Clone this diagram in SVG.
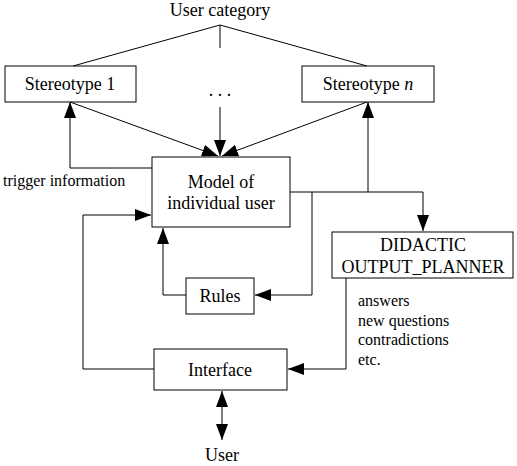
<svg xmlns="http://www.w3.org/2000/svg" width="517" height="466" viewBox="0 0 517 466">
<style>
.box{fill:#fff;stroke:#000;stroke-width:1}
.ln{fill:none;stroke:#000;stroke-width:1}
.t{font-size:18px;fill:#000;text-anchor:middle}
.s{font-size:16px;fill:#000}
</style>
<defs>
<marker id="ah" markerUnits="userSpaceOnUse" markerWidth="16" markerHeight="12" refX="16" refY="6" orient="auto-start-reverse" viewBox="0 0 16 12">
<path d="M0,0 L16,6 L0,12 z" fill="#000"/>
</marker>
</defs>
<rect width="517" height="466" fill="#fff"/>
<g id="connectors">
<path class="ln" d="M73,66 L220,25 L367,66"/>
<path class="ln" d="M220,25 L220,48"/>
<path class="ln" d="M220,107 L220,156" marker-end="url(#ah)"/>
<path class="ln" d="M70,102 L218,156" marker-end="url(#ah)"/>
<path class="ln" d="M367,102 L222,156" marker-end="url(#ah)"/>
<path class="ln" d="M152,168 L70,168 L70,102" marker-end="url(#ah)"/>
<path class="ln" d="M290,192 L423,192 L423,231" marker-end="url(#ah)"/>
<path class="ln" d="M368,192 L368,102" marker-end="url(#ah)"/>
<path class="ln" d="M312,192 L312,295 L255,295" marker-end="url(#ah)"/>
<path class="ln" d="M186,295 L163,295 L163,228" marker-end="url(#ah)"/>
<path class="ln" d="M154,369 L83,369 L83,215 L151,215" marker-end="url(#ah)"/>
<path class="ln" d="M346,278 L346,369 L288,369" marker-end="url(#ah)"/>
<path class="ln" d="M222,391 L222,440" marker-start="url(#ah)" marker-end="url(#ah)"/>
</g>
<g font-family="Liberation Serif, DejaVu Serif, serif">
<g id="user-category"><text class="t" x="220" y="16">User category</text></g>
<g id="stereotype-1"><rect class="box" x="5" y="66" width="131" height="36"/><text class="t" x="70" y="90">Stereotype 1</text></g>
<g id="ellipsis"><text class="t" x="220" y="96">. . .</text></g>
<g id="stereotype-n"><rect class="box" x="302" y="66" width="132" height="36"/><text class="t" x="368" y="90">Stereotype <tspan font-style="italic">n</tspan></text></g>
<g id="trigger-label"><text class="s" x="3" y="186">trigger information</text></g>
<g id="model"><rect class="box" x="152" y="157" width="138" height="70"/><text class="t" x="221" y="188">Model of</text><text class="t" x="221" y="209">individual user</text></g>
<g id="planner"><rect class="box" x="332" y="232" width="181" height="46"/><text class="t" x="423" y="251">DIDACTIC</text><text class="t" x="423" y="273">OUTPUT_PLANNER</text></g>
<g id="rules"><rect class="box" x="186" y="278" width="68" height="36"/><text class="t" x="220" y="302">Rules</text></g>
<g id="output-label"><text class="s" x="358" y="306">answers</text><text class="s" x="358" y="326">new questions</text><text class="s" x="358" y="345">contradictions</text><text class="s" x="358" y="365">etc.</text></g>
<g id="interface"><rect class="box" x="154" y="349" width="133" height="41"/><text class="t" x="220" y="376">Interface</text></g>
<g id="user"><text class="t" x="222" y="461">User</text></g>
</g>
</svg>
